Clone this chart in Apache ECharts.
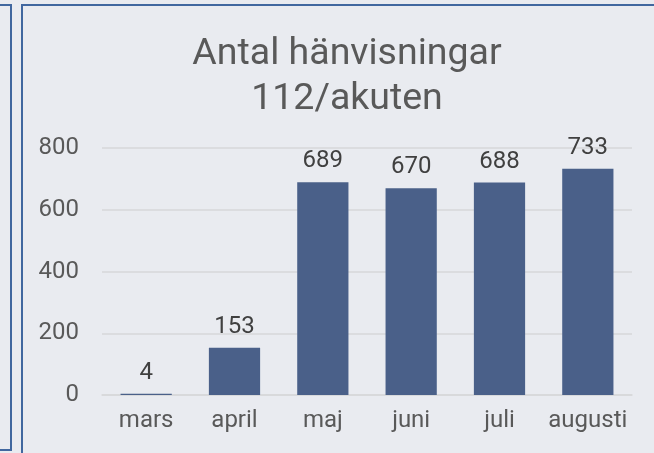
<!DOCTYPE html>
<html>
<head>
<meta charset="utf-8">
<script src="https://cdn.jsdelivr.net/npm/echarts@6/dist/echarts.min.js"></script>
<style>
  html, body { margin: 0; padding: 0; background: #e9ebf0; overflow: hidden; }
  #wrap { position: relative; width: 654px; height: 453px; }
  #chart { position: absolute; left: 0; top: 0; width: 654px; height: 453px; }
  .panel { position: absolute; border: 2px solid #41679f; box-sizing: border-box; }
</style>
</head>
<body>
<div id="wrap">
  <div class="panel" style="left:-20px; top:4px; width:32px; height:447px;"></div>
  <div class="panel" style="left:21px; top:4px; width:660px; height:470px;"></div>
  <div id="chart"></div>
</div>
<script>
const months = ["mars", "april", "maj", "juni", "juli", "augusti"];
const referrals = [4, 153, 689, 670, 688, 733];
const yTicks = [0, 200, 400, 600, 800];

const chart = echarts.init(document.getElementById("chart"));

chart.setOption({
  backgroundColor: "transparent",
  textStyle: { fontFamily: "Roboto" },
  title: {
    text: "Antal hänvisningar\n112/akuten",
    left: 342,
    top: 27,
    textAlign: "center",
    textStyle: {
      fontFamily: "Roboto",
      fontSize: 37.5,
      fontWeight: "normal",
      lineHeight: 45,
      color: "#595959"
    }
  },
  grid: { left: 102, right: 22, top: 148, bottom: 58 },
  xAxis: {
    type: "category",
    data: months,
    axisTick: { show: false },
    axisLine: { lineStyle: { color: "#d6d7da", width: 1.5 } },
    axisLabel: { color: "#595959", fontSize: 24, margin: 14, interval: 0 }
  },
  yAxis: {
    type: "value",
    min: yTicks[0],
    max: yTicks[yTicks.length - 1],
    interval: 200,
    axisLine: { show: false },
    axisTick: { show: false },
    splitLine: { lineStyle: { color: "#d6d7da", width: 1.5 } },
    axisLabel: { color: "#595959", fontSize: 24, margin: 23 }
  },
  series: [
    {
      type: "bar",
      data: referrals,
      barWidth: "58%",
      itemStyle: { color: "#4a6089" },
      label: {
        show: true,
        position: "top",
        distance: 9,
        color: "#404040",
        fontSize: 24,
        fontFamily: "Roboto"
      }
    }
  ]
});
</script>
</body>
</html>
